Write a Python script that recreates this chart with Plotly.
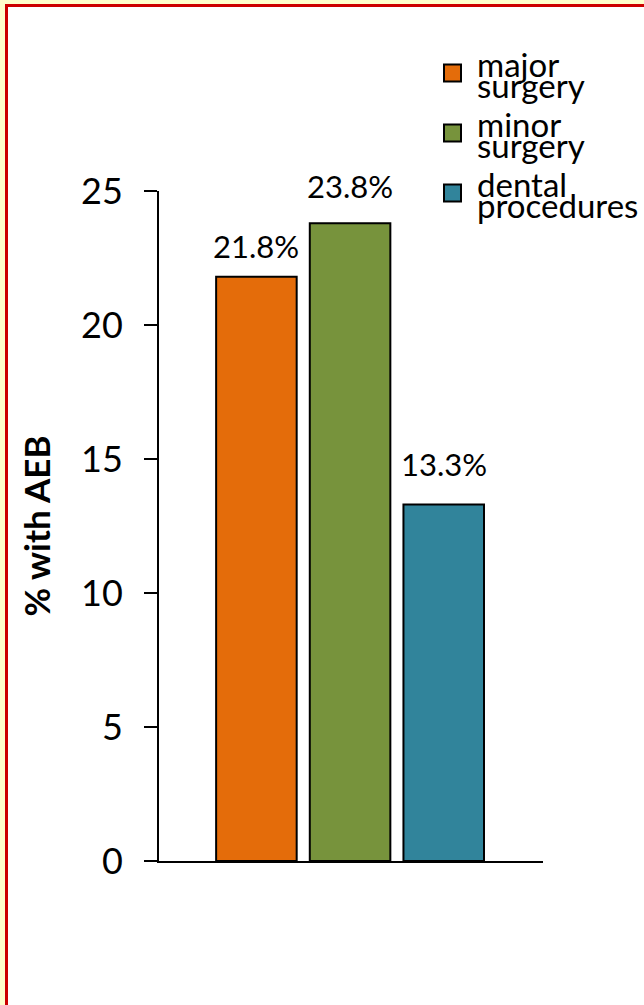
import plotly.graph_objects as go

# ---- data -------------------------------------------------------------
categories = ["major surgery", "minor surgery", "dental procedures"]
legend_lines = [["major", "surgery"], ["minor", "surgery"], ["dental", "procedures"]]
pct_with_aeb = [21.8, 23.8, 13.3]
y_ticks = [0, 5, 10, 15, 20, 25]

# ---- styling ----------------------------------------------------------
bar_colors = ["#E46C0A", "#77933C", "#31849B"]
label_lift = [10, 16, 20]          # px between bar top and its value label
FONT = "Lato, 'Open Sans', sans-serif"

W, H = 644, 1005
L, R, T, B = 159, 101, 191, 144
plot_w = W - L - R
plot_h = H - T - B


def px_x(px):
    return (px - L) / plot_w


def px_y(py):
    return (H - B - py) / plot_h


fig = go.Figure()
fig.add_trace(go.Bar(
    x=categories,
    y=pct_with_aeb,
    width=0.86,
    marker=dict(color=bar_colors, line=dict(color="black", width=2)),
    showlegend=False,
    hovertemplate="%{x}: %{y}%<extra></extra>",
))

# value labels above each bar
annotations = []
for cat, val, lift in zip(categories, pct_with_aeb, label_lift):
    annotations.append(dict(
        x=cat, y=val, xref="x", yref="y",
        text=f"{val}%", showarrow=False,
        yanchor="bottom", xanchor="center", yshift=lift,
        font=dict(family=FONT, size=31, color="black"),
    ))

# hand-built legend: coloured squares with two-line names
shapes = [dict(
    type="rect", xref="paper", yref="paper", layer="below",
    x0=px_x(6.5), x1=px_x(720), y0=px_y(5.5), y1=px_y(1100),
    fillcolor="white", line=dict(color="#CC0000", width=3),
)]
leg_top = 73
leg_step = 60
for i, (lines, col) in enumerate(zip(legend_lines, bar_colors)):
    cy = leg_top + i * leg_step
    shapes.append(dict(
        type="rect", xref="paper", yref="paper",
        x0=px_x(444), x1=px_x(461), y0=px_y(cy - 8.5), y1=px_y(cy + 8.5),
        fillcolor=col, line=dict(color="black", width=2),
    ))
    for j, word in enumerate(lines):
        annotations.append(dict(
            x=px_x(475), y=px_y(cy - 9 + j * 21), xref="paper", yref="paper",
            text=word, showarrow=False, xanchor="left", yanchor="middle",
            font=dict(family=FONT, size=33, color="black"),
        ))

fig.update_layout(
    width=W, height=H,
    margin=dict(l=L, r=R, t=T, b=B, pad=0),
    paper_bgcolor="#FFFFCC",
    plot_bgcolor="rgba(0,0,0,0)",
    font=dict(family=FONT, color="black"),
    showlegend=False,
    shapes=shapes,
    annotations=annotations,
    xaxis=dict(
        type="category", range=[-1.04, 3.06],
        showline=True, linecolor="black", linewidth=2,
        showticklabels=False, ticks="", showgrid=False, zeroline=False,
    ),
    yaxis=dict(
        range=[0, 25], tickvals=y_ticks,
        ticks="outside", ticklen=13, tickwidth=2, tickcolor="black",
        showline=True, linecolor="black", linewidth=2,
        showgrid=False, zeroline=False,
        tickfont=dict(family=FONT, size=36, color="black"),
        ticklabelstandoff=14,
        title=dict(text="<b>% with AEB</b>", standoff=20,
                   font=dict(family=FONT, size=35, color="black")),
    ),
)

fig.write_html("out.html")
